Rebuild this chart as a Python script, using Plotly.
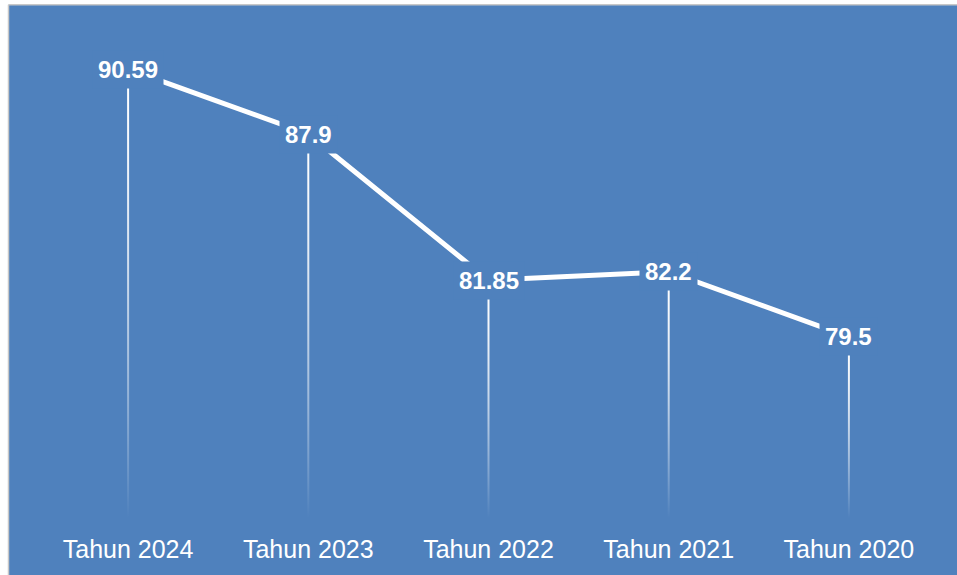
import plotly.graph_objects as go

categories = ["Tahun 2024", "Tahun 2023", "Tahun 2022", "Tahun 2021", "Tahun 2020"]
values = [90.59, 87.9, 81.85, 82.2, 79.5]
value_labels = ["90.59", "87.9", "81.85", "82.2", "79.5"]
y_min, y_max = 72, 92

W, H = 957, 575
ML, MR, MT, MB = 38, 18, 35, 55
BLUE = "#4F81BD"
FONT = "Arial, Liberation Sans, sans-serif"

xs = list(range(len(categories)))
pw = W - ML - MR
ph = H - MT - MB
n_cat = len(categories)
half_w = 1.0 * n_cat / pw  # half of a 2px drop line, in x data units

# fading colorscale (transparent at bottom -> white at top)
stops = []
K = 20
for k in range(K + 1):
    s = k / K
    a = 1 - (1 - s) ** 1.6
    stops.append([s, f"rgba(255,255,255,{a:.3f})"])

fig = go.Figure()
for x, v in zip(xs, values):
    fig.add_trace(go.Scatter(
        x=[x - half_w, x + half_w, x + half_w, x - half_w, x - half_w],
        y=[y_min, y_min, v, v, y_min],
        mode="lines", fill="toself", line=dict(width=0, color="rgba(0,0,0,0)"),
        fillgradient=dict(type="vertical", colorscale=stops),
        hoverinfo="skip", showlegend=False))

fig.add_trace(go.Scatter(x=xs, y=values, mode="lines",
                         line=dict(color="white", width=5), hoverinfo="skip",
                         showlegend=False))

def px_x(p):
    return (p - ML) / pw
def px_y(p):
    return (H - MB - p) / ph

shapes = []
# white outer margins with thin gray border (left and top)
shapes.append(dict(type="rect", xref="paper", yref="paper", x0=px_x(-5), x1=px_x(8.5),
                   y0=px_y(H + 5), y1=px_y(-5), fillcolor="white", line=dict(width=0), layer="above"))
shapes.append(dict(type="rect", xref="paper", yref="paper", x0=px_x(-5), x1=px_x(W + 5),
                   y0=px_y(4.5), y1=px_y(-5), fillcolor="white", line=dict(width=0), layer="above"))
shapes.append(dict(type="line", xref="paper", yref="paper", x0=px_x(8.5), x1=px_x(8.5),
                   y0=px_y(H + 5), y1=px_y(4.5), line=dict(color="#C8C8C8", width=1.5), layer="above"))
shapes.append(dict(type="line", xref="paper", yref="paper", x0=px_x(8.5), x1=px_x(W + 5),
                   y0=px_y(4.5), y1=px_y(4.5), line=dict(color="#C8C8C8", width=1.5), layer="above"))

annotations = []
for x, v, lab in zip(xs, values, value_labels):
    annotations.append(dict(x=x, y=v, xref="x", yref="y", text=f"<b>{lab}</b>",
                            showarrow=False, bgcolor=BLUE, borderpad=5,
                            font=dict(family=FONT, size=24, color="white"),
                            xanchor="center", yanchor="middle"))

fig.update_layout(
    width=W, height=H,
    margin=dict(l=ML, r=MR, t=MT, b=MB),
    paper_bgcolor=BLUE, plot_bgcolor=BLUE,
    shapes=shapes, annotations=annotations,
    xaxis=dict(range=[-0.5, n_cat - 0.5], tickvals=xs, ticktext=categories,
               showgrid=False, zeroline=False, showline=False, ticks="",
               ticklabelstandoff=14,
               tickfont=dict(family=FONT, size=25, color="white")),
    yaxis=dict(range=[y_min, y_max], showgrid=False, zeroline=False, showline=False,
               showticklabels=False, ticks=""),
    showlegend=False,
)

fig.write_html("out.html", config={"displayModeBar": False, "staticPlot": True},
               post_script="document.body.style.margin='0';document.body.style.overflow='hidden';")
